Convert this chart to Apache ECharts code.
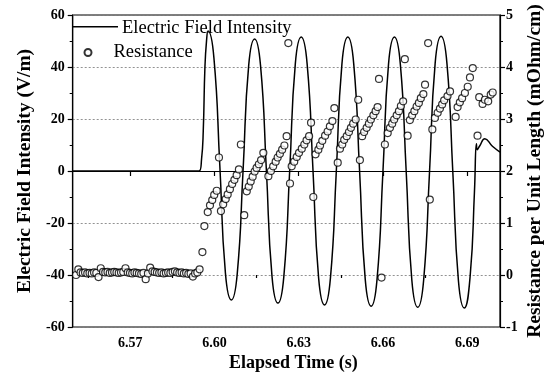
<!DOCTYPE html>
<html>
<head>
<meta charset="utf-8">
<script src="https://cdn.jsdelivr.net/npm/echarts@6/dist/echarts.min.js"></script>
<style>
html,body{margin:0;padding:0;background:#fff;}
#chart{width:546px;height:385px;}
</style>
</head>
<body>
<div id="chart"></div>
<script>
// ---------- data ----------
var xMajorTicks = [6.57, 6.60, 6.63, 6.66, 6.69];
var xMinorTicks = [6.555, 6.585, 6.615, 6.645, 6.675];
var eTime = [6.5495, 6.5945, 6.5954, 6.5960, 6.5966, 6.5972, 6.5977, 6.5998, 6.6019, 6.6039,
  6.6060, 6.6081, 6.6102, 6.6122, 6.6143, 6.6164, 6.6185, 6.6205, 6.6226, 6.6247,
  6.6268, 6.6288, 6.6309, 6.6330, 6.6351, 6.6371, 6.6392, 6.6413, 6.6434, 6.6454,
  6.6475, 6.6496, 6.6517, 6.6537, 6.6558, 6.6579, 6.6600, 6.6620, 6.6641, 6.6662,
  6.6683, 6.6703, 6.6724, 6.6745, 6.6766, 6.6786, 6.6807, 6.6828, 6.6849, 6.6869,
  6.6890, 6.6911, 6.6926, 6.6933, 6.6936, 6.6944, 6.6963, 6.6990, 6.7017];
var eValue = [0, 0, 4.6, 15.3, 40, 50.5, 53.8, 43.5, 2.1, -39.3,
  -49.6, -39.6, 0.6, 40.8, 50.8, 40.6, 0, -40.6, -50.8, -40.6,
  0.4, 41.3, 51.5, 41.2, 0, -41.2, -51.5, -41.2, 0, 41.2,
  51.5, 41.2, -0.3, -41.7, -52.0, -41.7, -0.3, 41.2, 51.5, 41.1,
  -0.5, -42.0, -52.4, -42.0, -0.3, 41.4, 51.8, 41.4, -0.5, -42.3,
  -52.7, -40, -8, 10.5, 8.2, 9.5, 12.4, 9.5, 7.3];

var rTime = [6.5507, 6.5515, 6.5523, 6.5531, 6.5539, 6.5547, 6.5555, 6.5563, 6.5571, 6.5579,
  6.5587, 6.5595, 6.5603, 6.5611, 6.5619, 6.5627, 6.5635, 6.5643, 6.5651, 6.5659,
  6.5667, 6.5675, 6.5683, 6.5691, 6.5699, 6.5707, 6.5715, 6.5723, 6.5731, 6.5739,
  6.5747, 6.5755, 6.5763, 6.5771, 6.5779, 6.5787, 6.5795, 6.5803, 6.5811, 6.5819,
  6.5827, 6.5835, 6.5843, 6.5851, 6.5859, 6.5867, 6.5875, 6.5883, 6.5891, 6.5899,
  6.5907, 6.5915, 6.5923, 6.5931, 6.5939, 6.5947,
  6.5957, 6.5964, 6.5976, 6.5984, 6.5992, 6.5999, 6.6008, 6.6016, 6.6023, 6.6031,
  6.6040, 6.6047, 6.6055, 6.6063, 6.6071, 6.6079, 6.6087, 6.6094, 6.6106, 6.6115,
  6.6122, 6.6129, 6.6136, 6.6143, 6.6150, 6.6158, 6.6166, 6.6174, 6.6192, 6.6201,
  6.6209, 6.6218, 6.6225, 6.6233, 6.6241, 6.6249, 6.6257, 6.6263, 6.6269, 6.6275,
  6.6284, 6.6293, 6.6301, 6.6311, 6.6320, 6.6328, 6.6337, 6.6344, 6.6352, 6.6360,
  6.6370, 6.6376, 6.6384, 6.6394, 6.6403, 6.6411, 6.6420, 6.6427, 6.6439, 6.6447,
  6.6455, 6.6462, 6.6471, 6.6479, 6.6486, 6.6494, 6.6503, 6.6512, 6.6518, 6.6526,
  6.6533, 6.6542, 6.6550, 6.6557, 6.6566, 6.6574, 6.6581, 6.6586, 6.6595, 6.6607,
  6.6617, 6.6625, 6.6633, 6.6640, 6.6649, 6.6657, 6.6664, 6.6672, 6.6678, 6.6688,
  6.6696, 6.6704, 6.6712, 6.6720, 6.6728, 6.6735, 6.6744, 6.6750, 6.6761, 6.6767,
  6.6776, 6.6785, 6.6795, 6.6803, 6.6811, 6.6818, 6.6830, 6.6839, 6.6859, 6.6866,
  6.6874, 6.6882, 6.6892, 6.6902, 6.6910, 6.6920, 6.6937, 6.6943, 6.6955, 6.6963,
  6.6975, 6.6984, 6.6991];
var rValue = [0.00, 0.11, 0.05, 0.04, 0.05, 0.03, 0.04, 0.03, 0.05, 0.04,
  -0.04, 0.13, 0.06, 0.05, 0.06, 0.04, 0.05, 0.06, 0.05, 0.04,
  0.05, 0.06, 0.13, 0.05, 0.04, 0.03, 0.05, 0.04, 0.03, 0.02,
  0.04, -0.08, 0.03, 0.14, 0.07, 0.06, 0.05, 0.04, 0.05, 0.03,
  0.04, 0.05, 0.04, 0.06, 0.07, 0.05, 0.04, 0.05, 0.03, 0.04,
  0.02, 0.03, -0.03, 0.03, 0.05, 0.11,
  0.44, 0.94, 1.21, 1.34, 1.44, 1.54, 1.62, 2.26, 1.23, 1.36,
  1.46, 1.55, 1.65, 1.75, 1.83, 1.92, 2.03, 2.51, 1.15, 1.61,
  1.70, 1.80, 1.89, 1.99, 2.06, 2.13, 2.21, 2.35, 1.90, 2.00,
  2.09, 2.18, 2.26, 2.33, 2.41, 2.49, 2.67, 4.46, 1.76, 2.09,
  2.18, 2.27, 2.35, 2.43, 2.51, 2.59, 2.67, 2.93, 1.50, 2.32,
  2.41, 2.49, 2.58, 2.68, 2.76, 2.86, 2.96, 3.21, 2.16, 2.43,
  2.51, 2.60, 2.67, 2.75, 2.83, 2.91, 2.99, 3.37, 2.21, 2.67,
  2.75, 2.83, 2.91, 2.99, 3.07, 3.15, 3.23, 3.77, -0.05, 2.51,
  2.73, 2.83, 2.91, 2.99, 3.07, 3.15, 3.25, 3.34, 4.15, 2.68,
  2.98, 3.07, 3.15, 3.24, 3.31, 3.40, 3.48, 3.66, 4.46, 1.45,
  2.80, 3.02, 3.12, 3.20, 3.28, 3.36, 3.44, 3.53, 3.04, 3.23,
  3.32, 3.40, 3.50, 3.62, 3.80, 3.98, 2.68, 3.42, 3.29, 3.37,
  3.34, 3.47, 3.51];

// ---------- chart ----------
var FONT = 'Liberation Serif';
var eData = eTime.map(function (t, i) { return [t, eValue[i]]; });
var rData = rTime.map(function (t, i) { return [t, rValue[i]]; });

var chart = echarts.init(document.getElementById('chart'), null, {renderer: 'canvas'});
var axisLineStyle = {color: '#000', width: 1.2};
chart.setOption({
  animation: false,
  backgroundColor: '#fff',
  grid: {left: 72.7, right: 46, top: 15, bottom: 58, show: true, borderColor: '#000', borderWidth: 1.2,
    backgroundColor: 'transparent', containLabel: false, outerBoundsMode: 'none'},
  legend: [{
    data: [{name: 'Electric Field Intensity', icon: 'path://M0,0H46V1.5H0Z M0,4.9H0.01V5H0Z'}],
    left: 72, top: 19,
    itemWidth: 46, itemHeight: 5,
    padding: 0,
    itemStyle: {color: '#000', borderWidth: 0},
    textStyle: {fontFamily: FONT, fontSize: 18.5, color: '#000', padding: [0, 0, 0, -1]}
  }, {
    data: ['Resistance'],
    left: 83.5, top: 43,
    itemWidth: 7, itemHeight: 7,
    padding: 0,
    textStyle: {fontFamily: FONT, fontSize: 18.5, color: '#000', padding: [0, 0, 0, 17]}
  }],
  xAxis: [{
    type: 'value', min: 6.5495, max: 6.7017,
    name: 'Elapsed Time (s)', nameLocation: 'middle', nameGap: 27, nameMoveOverlap: false,
    nameTextStyle: {fontFamily: FONT, fontSize: 18, fontWeight: 'bold', color: '#000', padding: [0, 0, 0, 14]},
    axisLine: {lineStyle: axisLineStyle},
    axisTick: {show: true, length: 5, lineStyle: {color: '#000', width: 1.2}, customValues: xMajorTicks},
    axisLabel: {fontFamily: FONT, fontSize: 14, fontWeight: 'bold', color: '#000', margin: 9,
      customValues: xMajorTicks, formatter: function (v) { return v.toFixed(2); }},
    splitLine: {show: false}
  }, {
    type: 'value', min: 6.5495, max: 6.7017, position: 'bottom',
    axisLine: {show: false},
    axisTick: {show: true, length: 3, lineStyle: {color: '#000', width: 1.2}, customValues: xMinorTicks},
    axisLabel: {show: false},
    splitLine: {show: false}
  }],
  yAxis: [{
    type: 'value', min: -60, max: 60, interval: 20, position: 'left',
    name: 'Electric Field Intensity (V/m)', nameLocation: 'middle', nameGap: 38, nameMoveOverlap: false,
    nameTextStyle: {fontFamily: FONT, fontSize: 19.5, fontWeight: 'bold', color: '#000'},
    axisLine: {show: true, lineStyle: axisLineStyle},
    axisTick: {show: true, length: 5, lineStyle: {color: '#000', width: 1.2}},
    minorTick: {show: true, splitNumber: 2, length: 3, lineStyle: {color: '#000', width: 1}},
    axisLabel: {fontFamily: FONT, fontSize: 14, fontWeight: 'bold', color: '#000', margin: 8},
    splitLine: {show: true, lineStyle: {color: '#777', type: [2, 2], width: 0.8}}
  }, {
    type: 'value', min: -1, max: 5, interval: 1, position: 'right',
    name: 'Resistance per Unit Length (mOhm/cm)', nameLocation: 'middle', nameGap: 25, nameRotate: 90, nameMoveOverlap: false,
    nameTextStyle: {fontFamily: FONT, fontSize: 19.5, fontWeight: 'bold', color: '#000'},
    axisLine: {show: true, lineStyle: axisLineStyle},
    axisTick: {show: true, length: 5, lineStyle: {color: '#000', width: 1.2}},
    minorTick: {show: true, splitNumber: 2, length: 3, lineStyle: {color: '#000', width: 1}},
    axisLabel: {fontFamily: FONT, fontSize: 14, fontWeight: 'bold', color: '#000', margin: 6},
    splitLine: {show: false}
  }],
  series: [{
    name: 'Electric Field Intensity', type: 'line', xAxisIndex: 0, yAxisIndex: 0,
    data: eData, smooth: 0.5, symbol: 'none', showSymbol: false,
    lineStyle: {color: '#000', width: 1.5}, itemStyle: {color: '#000'}, z: 2
  }, {
    name: 'Resistance', type: 'scatter', xAxisIndex: 0, yAxisIndex: 1,
    data: rData, symbol: 'circle', symbolSize: 7,
    itemStyle: {color: '#fff', borderColor: '#000', borderWidth: 1.2}, z: 3
  }]
});
</script>
</body>
</html>
